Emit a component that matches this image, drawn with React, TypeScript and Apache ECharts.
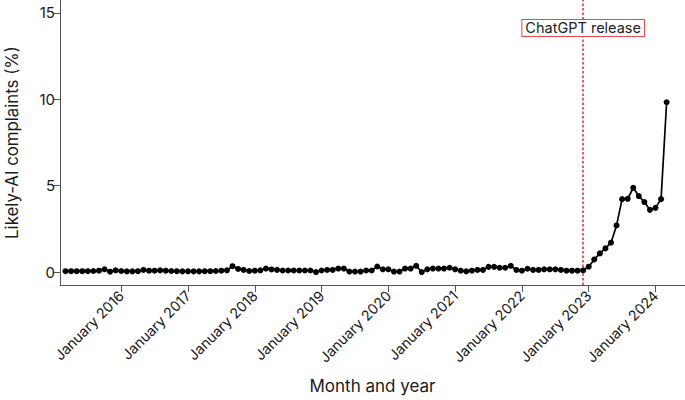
import React, { useEffect, useRef } from "react";
import * as echarts from "echarts";

// Monthly series, March 2015 .. March 2024 (index 0 = March 2015)
const START_YEAR = 2015;
const START_MONTH = 3;

const likelyAI: number[] = [
  // 2015 Mar - Dec
  0.05, 0.05, 0.05, 0.05, 0.05, 0.06, 0.08, 0.16, 0.02, 0.1,
  // 2016
  0.06, 0.04, 0.04, 0.05, 0.12, 0.08, 0.08, 0.1, 0.08, 0.06, 0.05, 0.04,
  // 2017
  0.04, 0.04, 0.04, 0.05, 0.05, 0.06, 0.08, 0.1, 0.34, 0.18, 0.12, 0.06,
  // 2018
  0.08, 0.1, 0.2, 0.15, 0.12, 0.09, 0.09, 0.09, 0.09, 0.09, 0.09, 0.0,
  // 2019
  0.09, 0.12, 0.12, 0.2, 0.2, 0.03, 0.03, 0.03, 0.09, 0.09, 0.32, 0.16,
  // 2020
  0.16, 0.03, 0.03, 0.2, 0.2, 0.36, 0.0, 0.16, 0.2, 0.2, 0.2, 0.25,
  // 2021
  0.16, 0.08, 0.04, 0.08, 0.12, 0.12, 0.3, 0.3, 0.25, 0.25, 0.36, 0.12,
  // 2022
  0.08, 0.19, 0.12, 0.12, 0.16, 0.16, 0.16, 0.12, 0.08, 0.08, 0.08, 0.1,
  // 2023
  0.31, 0.73, 1.08, 1.37, 1.7, 2.7, 4.22, 4.24, 4.88, 4.4, 4.05, 3.6,
  // 2024 Jan - Mar
  3.72, 4.22, 9.83,
];

const tickYears = [2016, 2017, 2018, 2019, 2020, 2021, 2022, 2023, 2024];
const yTicks = [0, 5, 10, 15];
const releaseLabel = "ChatGPT release";
// ChatGPT release: 30 November 2022, drawn on the December 2022 month slot
const releaseIndex = (2022 - START_YEAR) * 12 + (12 - START_MONTH);
const releaseLabelY = 14.13;

const monthIndexOfJanuary = (y: number) => (y - START_YEAR) * 12 + (1 - START_MONTH);

export default function App() {
  const ref = useRef<HTMLDivElement>(null);

  useEffect(() => {
    if (!ref.current) return;
    const chart = echarts.init(ref.current, null, { renderer: "svg" });
    const font = "Inter, 'Liberation Sans', sans-serif";
    const tickIdx = tickYears.map(monthIndexOfJanuary);
    const labelFor: Record<number, string> = {};
    tickYears.forEach((y, i) => (labelFor[tickIdx[i]] = "January " + y));

    chart.setOption({
      animation: false,
      backgroundColor: "#ffffff",
      textStyle: { fontFamily: font },
      grid: {
        left: 60,
        right: 0,
        top: 0,
        bottom: 115,
        containLabel: false,
        outerBoundsMode: "none",
      },
      xAxis: {
        type: "value",
        min: -1,
        max: 111.3,
        name: "Month and year",
        nameLocation: "middle",
        nameGap: 92,
        nameTextStyle: { fontSize: 17, color: "#1a1a1a", fontFamily: font },
        axisLine: { show: true, onZero: false, lineStyle: { color: "#555", width: 1 } },
        axisTick: { show: true, customValues: tickIdx, length: 7, lineStyle: { color: "#555" } },
        axisLabel: {
          customValues: tickIdx,
          formatter: (v: number) => labelFor[v] ?? "",
          rotate: 45,
          fontSize: 14.3,
          color: "#1a1a1a",
          margin: 8,
          fontFamily: font,
        },
        splitLine: { show: false },
      },
      yAxis: {
        type: "value",
        min: -0.75,
        max: 15.75,
        name: "Likely-AI complaints (%)",
        nameLocation: "middle",
        nameGap: 40,
        nameTextStyle: { fontSize: 16.8, color: "#1a1a1a", fontFamily: font },
        axisLine: { show: true, onZero: false, lineStyle: { color: "#555", width: 1 } },
        axisTick: { show: true, customValues: yTicks, length: 7, lineStyle: { color: "#555" } },
        axisLabel: { customValues: yTicks, fontSize: 15, color: "#1a1a1a", margin: 5, fontFamily: font },
        splitLine: { show: false },
      },
      series: [
        {
          type: "line",
          data: likelyAI.map((v, i) => [i, v]),
          symbol: "circle",
          symbolSize: 6,
          lineStyle: { color: "#000", width: 1.7 },
          itemStyle: { color: "#000" },
          z: 3,
          markLine: {
            silent: true,
            symbol: ["none", "none"],
            data: [{ xAxis: releaseIndex }],
            lineStyle: { color: "#e8262b", type: [2.5, 2], width: 1.5 },
            label: { show: false },
            z: 2,
          },
          markPoint: {
            silent: true,
            symbol: "rect",
            symbolSize: [0, 0],
            data: [{ coord: [releaseIndex, releaseLabelY], value: releaseLabel }],
            label: {
              show: true,
              position: "inside",
              formatter: releaseLabel,
              fontSize: 14.5,
              color: "#222",
              fontFamily: font,
              backgroundColor: "#fff",
              borderColor: "#e8474b",
              borderWidth: 1,
              padding: [1, 3, 0, 3],
            },
          },
        },
      ],
    });
    return () => chart.dispose();
  }, []);

  return (
    <div
      ref={ref}
      style={{ position: "fixed", left: 0, top: 0, width: 685, height: 400 }}
    />
  );
}
